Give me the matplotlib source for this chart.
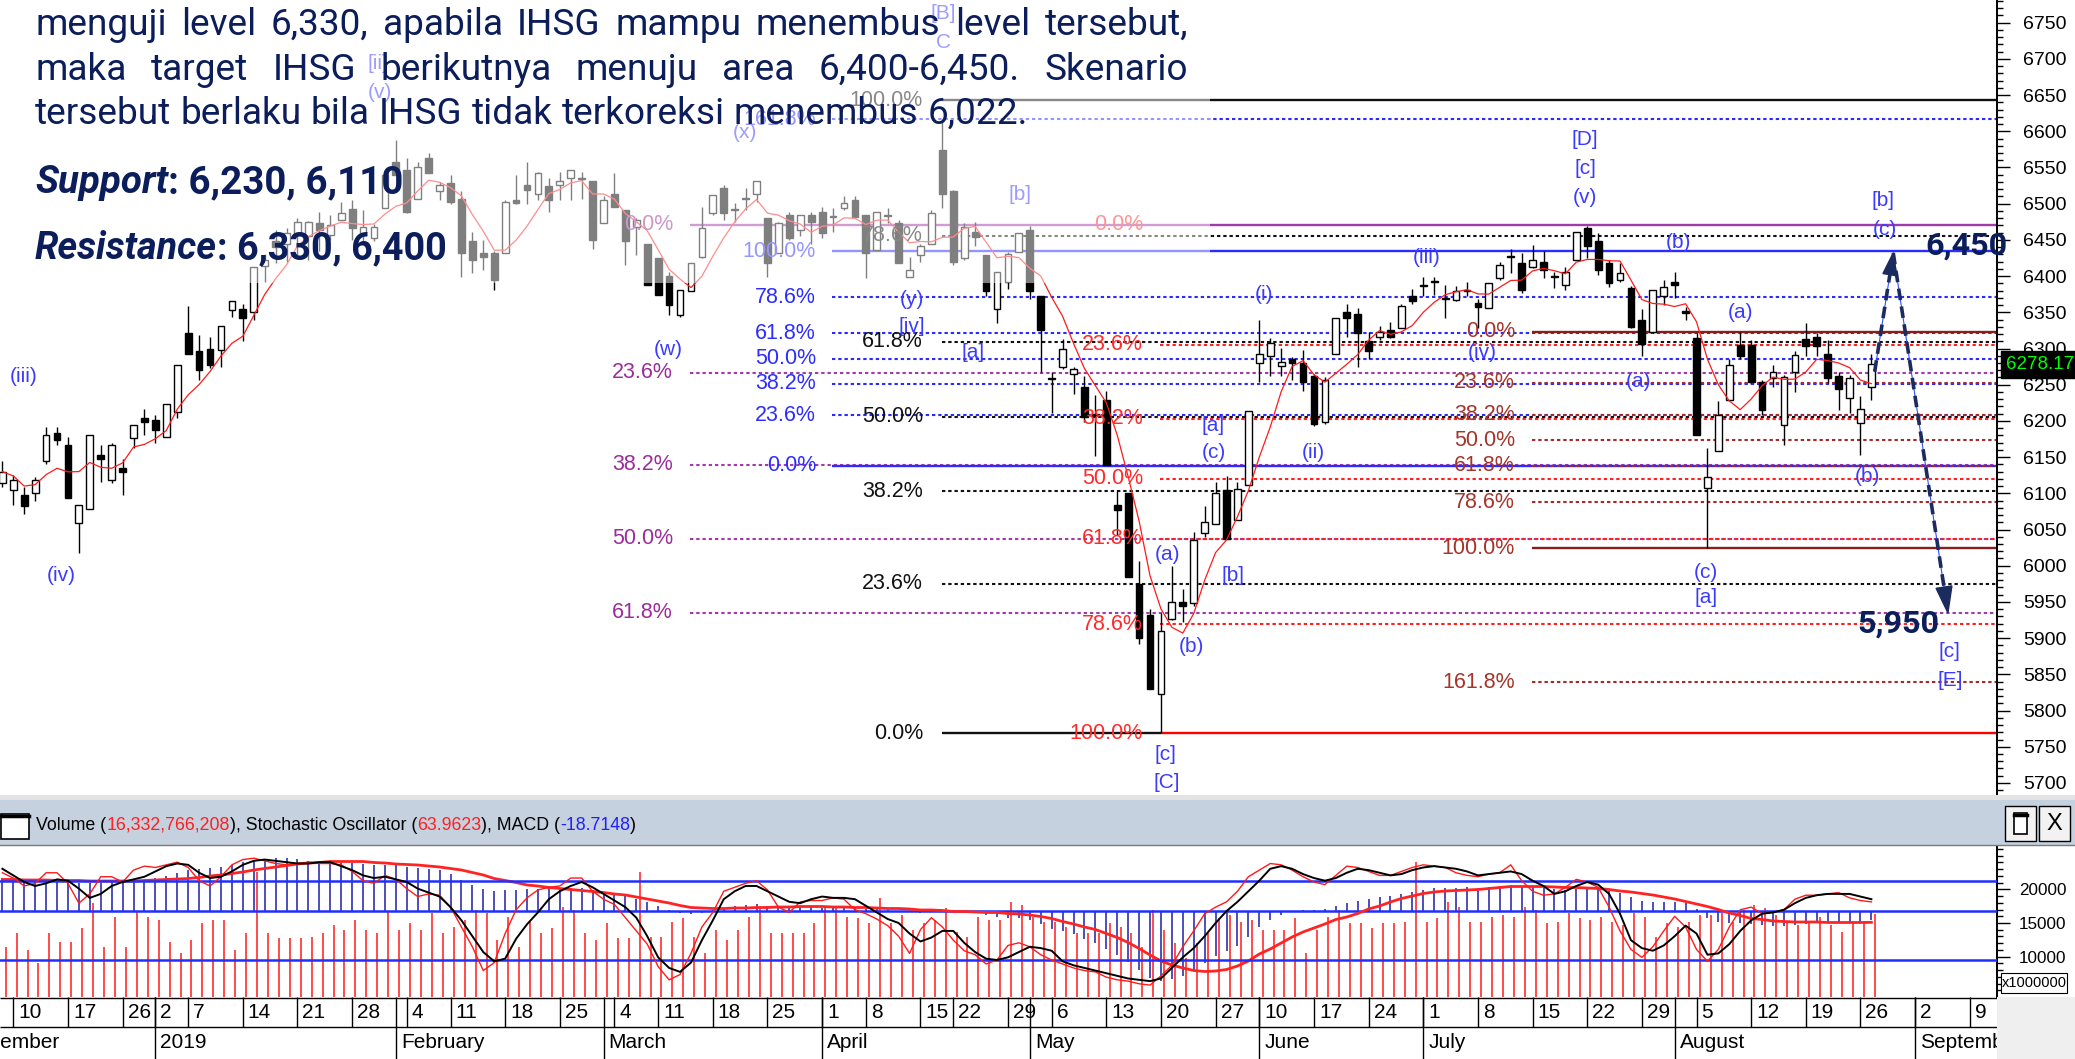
import matplotlib
matplotlib.use("Agg")
import matplotlib.pyplot as plt
from matplotlib import font_manager
from matplotlib.patches import Rectangle, Polygon
from matplotlib.lines import Line2D
from matplotlib.transforms import Affine2D, blended_transform_factory
from matplotlib.ticker import MultipleLocator
import numpy as np
import pandas as pd

W, H, DPI = 2075, 1059, 100

# ---------------- values ----------------
# trading-day index: 0 = Mon 10 Dec 2018, one step per IDX session
first_day = -1
opens = [6114, 6105, 6098, 6100, 6144, 6183, 6167, 6059, 6078, 6153,
         6118, 6135, 6176, 6204, 6201, 6178, 6213, 6322, 6296, 6300,
         6298, 6353, 6355, 6351, 6414, 6448, 6445, 6457, 6455, 6473,
         6457, 6477, 6492, 6457, 6452, 6494, 6558, 6546, 6507, 6563,
         6517, 6528, 6507, 6448, 6432, 6432, 6432, 6505, 6526, 6514,
         6524, 6526, 6535, 6535, 6531, 6473, 6513, 6491, 6468, 6445,
         6425, 6400, 6346, 6379, 6427, 6487, 6521, 6493, 6506, 6514,
         6480, 6432, 6485, 6464, 6485, 6489, 6482, 6494, 6505, 6485,
         6436, 6483, 6473, 6399, 6429, 6445, 6574, 6517, 6425, 6461,
         6429, 6354, 6392, 6433, 6464, 6372, 6258, 6275, 6265, 6247,
         6210, 6229, 6084, 6100, 5975, 5932, 5823, 5927, 5950, 5948,
         6045, 6058, 6104, 6063, 6111, 6280, 6290, 6276, 6285, 6280,
         6262, 6198, 6292, 6351, 6348, 6310, 6316, 6326, 6328, 6372,
         6386, 6392, 6368, 6367, 6381, 6363, 6356, 6397, 6427, 6418,
         6413, 6420, 6400, 6388, 6422, 6466, 6448, 6418, 6395, 6383,
         6340, 6323, 6372, 6392, 6352, 6314, 6107, 6158, 6229, 6305,
         6305, 6254, 6259, 6194, 6268, 6313, 6316, 6293, 6262, 6231,
         6197, 6247]
highs = [6144, 6125, 6109, 6123, 6192, 6192, 6178, 6084, 6181, 6167,
         6169, 6148, 6194, 6217, 6208, 6224, 6277, 6359, 6319, 6316,
         6331, 6365, 6362, 6413, 6430, 6464, 6466, 6480, 6476, 6489,
         6484, 6503, 6505, 6491, 6472, 6540, 6588, 6563, 6558, 6570,
         6530, 6540, 6517, 6461, 6450, 6434, 6505, 6540, 6558, 6544,
         6535, 6544, 6547, 6544, 6531, 6510, 6542, 6491, 6480, 6445,
         6425, 6406, 6381, 6418, 6496, 6512, 6526, 6501, 6521, 6531,
         6480, 6475, 6489, 6485, 6489, 6496, 6494, 6510, 6510, 6485,
         6489, 6494, 6478, 6427, 6445, 6491, 6613, 6519, 6473, 6475,
         6429, 6405, 6433, 6459, 6469, 6372, 6267, 6313, 6275, 6262,
         6236, 6242, 6105, 6100, 6007, 5940, 5935, 5999, 5968, 6047,
         6083, 6116, 6124, 6116, 6214, 6340, 6314, 6301, 6288, 6298,
         6265, 6260, 6342, 6362, 6356, 6323, 6331, 6337, 6362, 6382,
         6399, 6399, 6388, 6386, 6392, 6369, 6391, 6419, 6438, 6432,
         6443, 6434, 6406, 6413, 6461, 6469, 6459, 6422, 6418, 6386,
         6354, 6381, 6395, 6406, 6358, 6321, 6162, 6227, 6286, 6323,
         6312, 6257, 6277, 6263, 6296, 6335, 6321, 6312, 6268, 6263,
         6234, 6293]
lows = [6109, 6084, 6072, 6089, 6141, 6167, 6093, 6017, 6078, 6116,
        6114, 6098, 6162, 6181, 6169, 6178, 6204, 6293, 6257, 6273,
        6275, 6344, 6310, 6339, 6392, 6418, 6420, 6424, 6422, 6434,
        6450, 6477, 6450, 6447, 6448, 6494, 6540, 6487, 6507, 6542,
        6505, 6500, 6399, 6404, 6409, 6381, 6432, 6500, 6500, 6505,
        6489, 6505, 6505, 6507, 6438, 6473, 6495, 6415, 6429, 6388,
        6374, 6346, 6344, 6379, 6425, 6485, 6478, 6475, 6491, 6503,
        6399, 6432, 6450, 6455, 6445, 6452, 6461, 6491, 6480, 6397,
        6436, 6473, 6418, 6399, 6420, 6445, 6494, 6415, 6422, 6441,
        6372, 6335, 6382, 6433, 6369, 6267, 6211, 6272, 6237, 6198,
        6152, 6139, 6042, 5985, 5892, 5830, 5769, 5925, 5922, 5945,
        6040, 6058, 6037, 6063, 6111, 6254, 6262, 6262, 6257, 6242,
        6193, 6196, 6292, 6316, 6275, 6285, 6312, 6314, 6328, 6362,
        6372, 6374, 6342, 6365, 6372, 6328, 6356, 6395, 6404, 6376,
        6411, 6397, 6383, 6381, 6422, 6425, 6402, 6385, 6392, 6328,
        6289, 6321, 6360, 6370, 6340, 6181, 6024, 6158, 6229, 6286,
        6252, 6208, 6247, 6167, 6240, 6289, 6289, 6252, 6215, 6211,
        6153, 6229]
closes = [6130, 6118, 6082, 6118, 6181, 6174, 6093, 6084, 6181, 6148,
          6167, 6130, 6194, 6199, 6187, 6224, 6277, 6293, 6270, 6277,
          6331, 6365, 6342, 6413, 6422, 6440, 6460, 6475, 6475, 6464,
          6471, 6487, 6466, 6468, 6468, 6540, 6540, 6489, 6551, 6542,
          6526, 6503, 6432, 6422, 6427, 6395, 6503, 6501, 6519, 6542,
          6505, 6531, 6547, 6534, 6450, 6505, 6495, 6448, 6477, 6388,
          6374, 6360, 6381, 6418, 6466, 6512, 6487, 6491, 6508, 6531,
          6418, 6473, 6452, 6485, 6475, 6459, 6482, 6501, 6482, 6432,
          6489, 6483, 6418, 6408, 6441, 6487, 6514, 6420, 6468, 6454,
          6379, 6405, 6431, 6459, 6380, 6326, 6258, 6300, 6272, 6206,
          6208, 6139, 6077, 5985, 5900, 5830, 5910, 5950, 5945, 6035,
          6060, 6101, 6037, 6106, 6214, 6293, 6308, 6281, 6280, 6254,
          6196, 6257, 6342, 6342, 6321, 6296, 6323, 6316, 6359, 6365,
          6387, 6392, 6368, 6380, 6379, 6358, 6391, 6415, 6427, 6381,
          6422, 6408, 6399, 6406, 6461, 6441, 6408, 6390, 6404, 6330,
          6306, 6381, 6385, 6388, 6349, 6181, 6123, 6208, 6277, 6289,
          6254, 6215, 6268, 6261, 6291, 6303, 6303, 6259, 6244, 6259,
          6217, 6278.17]
volume = [11490, 13470, 10990, 9010, 13470, 12230, 12230, 14210, 17920, 11490,
          15940, 11490, 16680, 15940, 15440, 12230, 10500, 12480, 14950, 15440,
          15440, 10990, 13470, 22620, 13470, 12720, 12720, 12720, 12970, 13470,
          14700, 13960, 15440, 13960, 13470, 16680, 13960, 14950, 13960, 16430,
          13470, 14460, 15440, 16930, 16430, 12480, 15940, 11490, 15200, 13470,
          14210, 17420, 16930, 13470, 12480, 14950, 12720, 12720, 22620, 12970,
          12970, 15200, 15690, 12970, 10500, 13960, 12480, 13960, 15940, 17420,
          13470, 13470, 13470, 13470, 14950, 17420, 17420, 15940, 15690, 14950,
          18660, 14950, 16190, 13960, 14950, 15440, 17180, 13710, 12970, 15940,
          15440, 15440, 18170, 17670, 15940, 15200, 15200, 14460, 13470, 13470,
          13470, 14950, 14460, 13470, 11490, 16930, 13960, 11980, 9760, 11980,
          13470, 15690, 16190, 15200, 15440, 13960, 13960, 13960, 15690, 10500,
          13960, 15940, 16930, 14950, 14950, 14210, 14950, 14950, 15200, 24100,
          15200, 15690, 18170, 17420, 15200, 15200, 15940, 16190, 15940, 17420,
          16930, 14950, 15200, 16430, 15690, 15440, 15940, 15200, 14700, 16430,
          15940, 12970, 14950, 14460, 15200, 16190, 16190, 16430, 15200, 16930,
          17670, 17180, 16190, 14950, 14700, 14950, 15940, 14700, 13710, 15200,
          15200, 16333]  # x 1,000,000
stoch_k = [86, 82, 76, 78, 86, 86, 78, 63, 70, 83,
           83, 79, 88, 91, 90, 92, 94, 90, 80, 76,
           83, 92, 96, 97, 95, 93, 92, 93, 94, 93,
           93, 92, 87, 80, 78, 84, 81, 74, 68, 70,
           69, 60, 45, 30, 12, 18, 40, 58, 67, 73,
           75, 76, 82, 82, 72, 66, 62, 52, 42, 32,
           15, 5, 9, 25, 45, 56, 72, 75, 78, 80,
           73, 60, 56, 64, 65, 65, 67, 66, 58, 55,
           51, 46, 38, 25, 43, 52, 45, 35, 27, 24,
           17, 20, 31, 33, 30, 24, 20, 17, 14, 12,
           11, 7, 5, 4, 2, 1, 8, 16, 30, 42,
           55, 60, 64, 72, 83, 88, 93, 92, 88, 83,
           79, 77, 84, 91, 90, 87, 84, 84, 87, 90,
           92, 91, 90, 86, 84, 83, 85, 86, 92, 80,
           72, 69, 70, 75, 81, 79, 75, 60, 42, 28,
           22, 30, 42, 53, 45, 28, 19, 28, 45, 58,
           60, 55, 56, 58, 66, 69, 69, 70, 71, 67,
           65, 63.96]
stoch_d = [89, 84, 79, 76, 78, 81, 80, 74, 67, 70,
           76, 79, 81, 83, 87, 91, 93, 92, 86, 82,
           83, 87, 92, 95, 96, 95, 94, 93, 93, 94,
           94, 91, 88, 84, 82, 83, 81, 79, 74, 71,
           68, 60, 50, 38, 26, 19, 21, 36, 47, 56,
           66, 72, 76, 79, 75, 70, 65, 60, 52, 38,
           22, 14, 11, 18, 35, 50, 66, 72, 76, 76,
           72, 68, 64, 63, 66, 68, 67, 67, 66, 61,
           56, 51, 48, 40, 34, 37, 42, 42, 33, 26,
           21, 20, 22, 26, 30, 29, 27, 19, 16, 14,
           12, 10, 8, 6, 5, 4, 6, 14, 22, 29,
           38, 48, 57, 64, 72, 80, 89, 91, 89, 85,
           82, 80, 82, 86, 89, 88, 86, 84, 85, 88,
           90, 91, 90, 89, 87, 84, 85, 86, 87, 85,
           80, 76, 70, 72, 76, 79, 77, 70, 55, 35,
           29, 27, 31, 38, 46, 40, 24, 25, 32, 42,
           50, 55, 56, 58, 63, 67, 69, 70, 70, 70,
           68, 66]
macd = [66, 64, 62, 60, 60, 62, 60, 56, 56, 57,
        58, 58, 60, 62, 66, 70, 76, 82, 85, 86,
        88, 93, 98, 103, 105, 106, 106, 104, 101, 99,
        98, 97, 96, 94, 92, 92, 92, 88, 86, 85,
        82, 74, 62, 52, 45, 40, 42, 43, 44, 45,
        46, 46, 47, 47, 42, 38, 35, 30, 25, 18,
        10, 2, -4, -5, -3, 2, 7, 10, 12, 14,
        11, 10, 9, 9, 8, 7, 6, 6, 6, 4,
        4, 3, 1, -2, -3, 0, 2, -1, -2, -3,
        -8, -12, -14, -13, -18, -26, -36, -40, -45, -55,
        -64, -75, -88, -102, -118, -134, -140, -136, -130, -118,
        -104, -90, -80, -70, -52, -32, -18, -8, -2, 2,
        2, 4, 10, 16, 20, 24, 28, 30, 34, 38,
        42, 46, 46, 47, 48, 47, 48, 50, 52, 50,
        49, 47, 44, 43, 45, 46, 44, 40, 36, 28,
        20, 18, 18, 18, 16, 4, -14, -22, -24, -24,
        -25, -28, -29, -30, -28, -25, -22, -22, -22, -21,
        -22, -18.71]
macd_signal = [63, 63, 62, 62, 62, 61, 61, 61, 60, 60,
               60, 60, 60, 61, 62, 63, 64, 65, 67, 70,
               72, 75, 78, 82, 85, 88, 91, 94, 96, 97,
               99, 99, 99, 99, 97, 96, 94, 93, 92, 90,
               88, 85, 82, 77, 72, 65, 61, 57, 52, 50,
               47, 45, 43, 41, 39, 37, 34, 32, 28, 24,
               20, 16, 11, 7, 6, 5, 5, 6, 6, 7,
               7, 8, 8, 9, 9, 9, 8, 8, 7, 7,
               6, 5, 5, 4, 2, 2, 1, -1, -1, -2,
               -3, -3, -5, -6, -8, -11, -15, -21, -26, -32,
               -37, -45, -53, -63, -75, -88, -100, -108, -114, -119,
               -121, -120, -117, -110, -100, -86, -76, -64, -52, -42,
               -34, -26, -17, -12, -5, 4, 10, 18, 25, 30,
               35, 38, 40, 41, 42, 43, 45, 47, 49, 49,
               49, 49, 48, 47, 47, 46, 45, 43, 40, 38,
               35, 32, 28, 24, 19, 14, 9, 3, -4, -9,
               -15, -17, -20, -21, -22, -22, -22, -23, -23, -23,
               -23, -22.7]

week_ticks = [0, 5, 10, 13, 16, 21, 26, 31, 36, 40, 45, 50, 55, 59, 64, 69, 74, 78, 83,
              86, 91, 95, 100, 105, 110, 114, 119, 124, 129, 134, 139, 144, 149, 154,
              159, 164, 169, 174, 179]
week_labels = ['10', '17', '26', '2', '7', '14', '21', '28', '4', '11', '18', '25', '4',
               '11', '18', '25', '1', '8', '15', '22', '29', '6', '13', '20', '27', '10',
               '17', '24', '1', '8', '15', '22', '29', '5', '12', '19', '26', '2', '9']
month_ticks = [-5, 13, 35, 54, 74, 93, 114, 129, 152, 174]
month_labels = ['December', '2019', 'February', 'March', 'April', 'May', 'June', 'July',
                'August', 'September']
price_ticks = list(range(5700, 6751, 50))
vol_ticks = [10000, 15000, 20000]

# Fibonacci sets: (price at 0 %, price at 100 %, ratios drawn)
fib_levels = {
    'purple': (6471, 5604, [0, 0.236, 0.382, 0.5, 0.618]),
    'blue': (6138, 6434, [0, 0.236, 0.382, 0.5, 0.618, 0.786, 1.0, 1.618]),
    'black': (5769, 6643, [0, 0.236, 0.382, 0.5, 0.618, 0.786, 1.0]),
    'red': (6471, 5769, [0, 0.236, 0.382, 0.5, 0.618, 0.786, 1.0]),
    'brown': (6323, 6024, [0, 0.236, 0.382, 0.5, 0.618, 0.786, 1.0, 1.618]),
}

# Elliott wave labels (day index, price, text)
wave_labels = [
    (0.9, 6261, '(iii)'), (4.4, 5986, '(iv)'), (33.4, 6694, '[ii]'), (33.5, 6653, '(v)'),
    (85.1, 6763, '[B]'), (85.1, 6722, 'C'), (66.9, 6598, '(x)'), (59.9, 6299, '(w)'),
    (82.2, 6367, '(y)'), (82.2, 6331, '[iv]'), (87.8, 6295, '[a]'), (92.1, 6512, '[b]'),
    (114.4, 6374, '(i)'), (109.8, 6194, '[a]'), (109.8, 6156, '(c)'), (118.9, 6156, '(ii)'),
    (105.6, 6016, '(a)'), (111.6, 5987, '[b]'), (107.8, 5888, '(b)'), (105.4, 5739, '[c]'),
    (105.5, 5701, '[C]'), (129.3, 6425, '(iii)'), (134.4, 6294, '(iv)'), (143.8, 6588, '[D]'),
    (143.8, 6549, '[c]'), (143.8, 6509, '(v)'), (152.3, 6447, '(b)'), (158.0, 6350, '(a)'),
    (148.7, 6254, '(a)'), (171.1, 6505, '[b]'), (171.2, 6464, '(c)'), (169.6, 6123, '(b)'),
    (154.9, 5991, '(c)'), (154.9, 5956, '[a]'), (177.1, 5881, '[c]'), (177.2, 5842, '[E]'),
]

text_lines = ["menguji level 6,330, apabila IHSG mampu menembus level tersebut,",
              "maka target IHSG berikutnya menuju area 6,400-6,450. Skenario",
              "tersebut berlaku bila IHSG tidak terkoreksi menembus 6,022."]

# ---------------- fonts ----------------
ttf = font_manager.fontManager.ttflist
avail = {f.name for f in ttf}
italic_fams = {f.name for f in ttf if f.style in ('italic', 'oblique')}


def pick(*names):
    for n in names:
        if n in avail:
            return n
    return 'DejaVu Sans'


NARROW = pick('Liberation Sans Narrow', 'Liberation Sans', 'DejaVu Sans')
ARIAL = pick('Liberation Sans', 'DejaVu Sans')
BODY = pick('Roboto', 'Open Sans', 'Noto Sans', 'DejaVu Sans')
BOLDIT = next((n for n in (BODY, 'Open Sans', 'Noto Sans', 'Lato', 'DejaVu Sans') if n in italic_fams),
              'DejaVu Sans')
NAVY = '#0b1d5a'

# ---------------- layout ----------------
fig = plt.figure(figsize=(W / DPI, H / DPI), dpi=DPI)
fig.patch.set_facecolor('white')
PX = Affine2D().scale(1, -1).translate(0, H)      # pixel coords, origin top-left
renderer = fig.canvas.get_renderer()

X_RIGHT = 1997
X0_PX, DX_PX = 13.3, 10.93          # x pixel of day 0 and pixel width of one session


def day_at(px):
    return (px - X0_PX) / DX_PX


xlim = (day_at(0), day_at(X_RIGHT))
P_TOP, P_BOT = 6781.3, 5682.0

ax = fig.add_axes([0, 1 - 796 / H, X_RIGHT / W, 796 / H])
ax.set_xlim(*xlim)
ax.set_ylim(P_BOT, P_TOP)
for s in ('left', 'top', 'bottom'):
    ax.spines[s].set_visible(False)
ax.spines['right'].set_linewidth(1.4)
ax.yaxis.tick_right()
ax.set_yticks(price_ticks)
ax.yaxis.set_minor_locator(MultipleLocator(10))
ax.tick_params(axis='y', which='major', length=9, width=1, pad=10, labelsize=14)
ax.tick_params(axis='y', which='minor', length=4.5, width=1)
ax.set_xticks([])
for t in ax.get_yticklabels():
    t.set_family(ARIAL)

# Fibonacci lines and labels
fib_style = {
    'purple': dict(label_px=673, start_px=690, text='#9b2d9b', line='#a03ca8', solid=[0]),
    'blue': dict(label_px=816, start_px=832, text='#2d2dff', line='#2b2bff', solid=[0, 1.0]),
    'black': dict(label_px=923, start_px=942, text='#111111', line='#111111', solid=[0, 1.0]),
    'red': dict(label_px=1143, start_px=1160, text='#ff2a2a', line='#ff2020', solid=[1.0]),
    'brown': dict(label_px=1515, start_px=1532, text='#a3352b', line='#a52a2a', solid=[0, 1.0]),
}
for name, (p0, p100, ratios) in fib_levels.items():
    st = fib_style[name]
    for r in ratios:
        lvl = p0 + r * (p100 - p0)
        x0 = day_at(st['start_px'])
        x1 = xlim[1]
        if name == 'black' and r == 0:
            x1 = day_at(1161)
        if name == 'red' and r == 1.0:
            x0 = day_at(1161)
        draw_line = not (name == 'red' and r == 0)
        if draw_line:
            if r in st['solid']:
                col = '#8b1c1c' if name == 'brown' else ('#ff0000' if name == 'red' else st['line'])
                ax.plot([x0, x1], [lvl, lvl], color=col, lw=1.7, solid_capstyle='butt', zorder=1)
            else:
                ax.plot([x0, x1], [lvl, lvl], color=st['line'], lw=1.5,
                        linestyle=(0, (1.6, 1.4)), zorder=1)
        ax.text(day_at(st['label_px']), lvl, f"{r * 100:.1f}%", ha='right', va='center',
                color=st['text'], fontsize=15.5, family=NARROW, zorder=6)

# candles
x = np.arange(first_day, first_day + len(closes))
o, h, l, c = (np.asarray(v, dtype=float) for v in (opens, highs, lows, closes))
up = c >= o
ax.vlines(x, l, h, color='black', lw=1.0, zorder=3)
bottom = np.minimum(o, c)
height = np.maximum(np.abs(c - o), 1.4)
ax.bar(x[up], height[up], bottom=bottom[up], width=0.62, color='white',
       edgecolor='black', linewidth=1.0, zorder=4)
ax.bar(x[~up], height[~up], bottom=bottom[~up], width=0.62, color='black',
       edgecolor='black', linewidth=1.0, zorder=4)

# 5-day moving average of the closes, as the charting package draws it
ma5 = pd.Series(closes).rolling(5, min_periods=1).mean()
ax.plot(x, ma5, color='#ff1a1a', lw=0.9, zorder=5)

for dx, py, s in wave_labels:
    ax.text(dx, py, s, ha='center', va='center', color='#3b3bff', fontsize=15,
            family=NARROW, zorder=6)

# last price tag
tr = blended_transform_factory(ax.transAxes, ax.transData)
ax.text(1.0045, closes[-1], f"{closes[-1]:.2f}", transform=tr, ha='left', va='center',
        color='#00ff00', fontsize=13.5, family=NARROW, zorder=10, clip_on=False,
        bbox=dict(facecolor='black', edgecolor='black', pad=3.5))


# scenario arrows
def dashed_arrow(p_from, p_to, head_len, head_w):
    T = ax.transData
    a = T.transform(p_from)
    b = T.transform(p_to)
    d = (b - a) / np.hypot(*(b - a))
    n = np.array([-d[1], d[0]])
    base = b - d * head_len
    inv = T.inverted()
    seg = inv.transform(np.vstack([a, base]))
    ax.plot(seg[:, 0], seg[:, 1], color='#3050ff', lw=0.8, zorder=8, clip_on=False)
    ax.plot(seg[:, 0], seg[:, 1], color='#1c2b5e', lw=2.6, linestyle=(0, (3.2, 1.8)),
            zorder=9, clip_on=False)
    tri = inv.transform(np.vstack([b, base + n * head_w, base - n * head_w]))
    ax.add_patch(Polygon(tri, closed=True, facecolor='#1c2b5e', edgecolor='#1c2b5e',
                         zorder=9, clip_on=False))


dashed_arrow((170.3, 6268), (172.0, 6432), 22, 7)
dashed_arrow((172.0, 6432), (177.0, 5935), 26, 8)

# ---------------- indicator panel ----------------
IND_TOP, IND_BOT = 845, 997
rect = [0, 1 - IND_BOT / H, X_RIGHT / W, (IND_BOT - IND_TOP) / H]
VOL_LO, VOL_HI = 4021, 26573
axv = fig.add_axes(rect)
axv.set_xlim(*xlim)
axv.set_ylim(VOL_LO, VOL_HI)
axv.vlines(x + 0.3, VOL_LO, volume, color='#ff1a1a', lw=1.1)
for s in ('left', 'top', 'bottom'):
    axv.spines[s].set_visible(False)
axv.spines['right'].set_linewidth(1.4)
axv.yaxis.tick_right()
axv.set_yticks(vol_ticks)
axv.yaxis.set_minor_locator(MultipleLocator(1000))
axv.tick_params(axis='y', which='major', length=9, width=1, pad=7, labelsize=12.3)
axv.tick_params(axis='y', which='minor', length=4, width=1)
axv.set_xticks([])
for t in axv.get_yticklabels():
    t.set_family(ARIAL)

axm = fig.add_axes(rect)
axm.patch.set_visible(False)
axm.axis('off')
axm.set_xlim(*xlim)
axm.set_ylim(-172, 132)
axm.vlines(x, 0, macd, color='#1e1ea6', lw=1.1)
axm.axhline(0, color='#1f2fff', lw=1.8)
axm.plot(x, macd_signal, color='#ff2424', lw=2.0)

axs = fig.add_axes(rect)
axs.patch.set_visible(False)
axs.axis('off')
axs.set_xlim(*xlim)
axs.set_ylim(-8, 107)
axs.axhline(80, color='#1f2fff', lw=1.8)
axs.axhline(20, color='#1f2fff', lw=1.8)
axs.plot(x, stoch_k, color='#ff1a1a', lw=1.0)
axs.plot(x, stoch_d, color='black', lw=1.4)

# ---------------- date rows ----------------
axd = fig.add_axes([0, 0, X_RIGHT / W, (H - IND_BOT) / H])
axd.set_xlim(*xlim)
axd.set_ylim(H, IND_BOT)
axd.axis('off')
axd.vlines(week_ticks, IND_BOT, 1027, color='black', lw=1)
axd.vlines(month_ticks, IND_BOT, H, color='black', lw=1)
axd.hlines([IND_BOT + 0.5, 1027], xlim[0], xlim[1], color='black', lw=1)
off = 5 / DX_PX
for t, s in zip(week_ticks, week_labels):
    axd.text(t + off, 1012, s, ha='left', va='center', fontsize=15, family=NARROW, clip_on=True)
for t, s in zip(month_ticks, month_labels):
    axd.text(t + off, 1043, s, ha='left', va='center', fontsize=15, family=NARROW, clip_on=True)


# ---------------- figure-level decorations ----------------
def frect(x0, y0, w, hgt, **kw):
    r = Rectangle((x0, y0), w, hgt, transform=PX, **kw)
    fig.add_artist(r)
    return r


def fline(xs, ys, **kw):
    fig.add_artist(Line2D(xs, ys, transform=PX, **kw))


# white haze behind the text block
frect(0, 0, 1210, 283, facecolor='white', edgecolor='none', alpha=0.5, zorder=1)

# indicator header
frect(0, 795, W, 5, facecolor='#e3e3e3', edgecolor='none', zorder=1)
frect(0, 800, W, 45, facecolor='#c5d1de', edgecolor='none', zorder=1)
fline([0, W], [845, 845], color='#7a7a7a', lw=1, zorder=2)
frect(1, 814, 28, 25, facecolor='white', edgecolor='black', lw=1.2, zorder=2)
fline([1, 29], [816, 816], color='black', lw=2.5, zorder=2)
for bx, sym in ((2005, 'win'), (2039, 'X')):
    frect(bx, 806, 31, 35, facecolor='#f2f2f2', edgecolor='black', lw=1, zorder=2)
    if sym == 'win':
        frect(bx + 9, 813, 13, 21, facecolor='white', edgecolor='black', lw=1.2, zorder=3)
        fline([bx + 9, bx + 22], [815, 815], color='black', lw=2.5, zorder=3)
    else:
        fig.text(bx + 15.5, 824, 'X', transform=PX, ha='center', va='center',
                 fontsize=17, family=ARIAL)
frect(X_RIGHT, IND_BOT, W - X_RIGHT, H - IND_BOT, facecolor='#efefef', edgecolor='none', zorder=1)
frect(2001, 973, 66, 20, facecolor='white', edgecolor='black', lw=0.8, zorder=2)
fig.text(2034, 983, 'x1000000', transform=PX, ha='center', va='center', fontsize=10.5,
         family=NARROW)


def measure(s, size, **kw):
    t = fig.text(0, 0, s, fontsize=size, **kw)
    w = t.get_window_extent(renderer).width
    t.remove()
    return w


def put(xp, yp, s, size, **kw):
    return fig.text(xp, yp, s, transform=PX, fontsize=size, va='baseline', zorder=5, **kw)


def fit_parts(x0, y, parts, target_w):
    base = sum(measure(s, 20, **kw) for s, kw in parts)
    size = 20 * target_w / base
    xp = x0
    for s, kw in parts:
        put(xp, y, s, size, **kw)
        xp += measure(s, size, **kw)


# header text
hdr = dict(family=NARROW, color='black')
fit_parts(36, 830, [("Volume (", hdr), ("16,332,766,208", dict(hdr, color='#ff2020')),
                    ("), Stochastic Oscillator (", hdr), ("63.9623", dict(hdr, color='#ff2020')),
                    ("), MACD (", hdr), ("-18.7148", dict(hdr, color='#2020ff')), (")", hdr)], 600)

# commentary text block
body = dict(family=BODY, color=NAVY)
size_body = 20 * 990 / measure(text_lines[2], 20, **body)
for line, yb, justify in zip(text_lines, (35, 80, 123.5), (True, True, False)):
    words = line.split()
    widths = [measure(w_, size_body, **body) for w_ in words]
    if justify:
        gap = (1188 - 35 - sum(widths)) / (len(words) - 1)
    else:
        gap = measure('a a', size_body, **body) - measure('aa', size_body, **body)
    xp = 35
    for w_, wd in zip(words, widths):
        put(xp, yb, w_, size_body, **body)
        xp += wd + gap

bold = dict(family=BODY, color=NAVY, weight='bold')
boldit = dict(family=BOLDIT, color=NAVY, weight='bold', style='italic')
fit_parts(35, 193, [("Support", boldit), (": 6,230, 6,110", bold)], 368)
fit_parts(35, 259, [("Resistance", boldit), (": 6,330, 6,400", bold)], 411)
fit_parts(1925, 255, [("6,450", bold)], 82)
fit_parts(1857, 633, [("5,950", bold)], 82)

fig.savefig('out.png', dpi=DPI, facecolor='white')
